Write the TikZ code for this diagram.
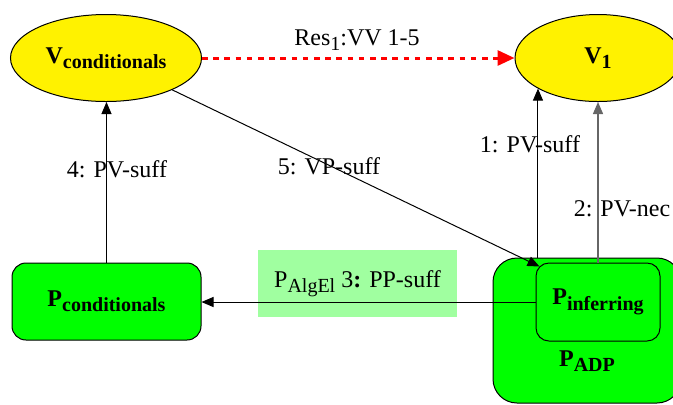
\documentclass[tikz,border=0pt]{standalone}
\usepackage{fontspec}
\setmainfont{Liberation Serif}
\usetikzlibrary{arrows.meta,shapes.geometric}
\definecolor{palegreen}{HTML}{A0FFA0}
\definecolor{necgray}{HTML}{666666}
\newcommand{\lowsub}[2][2.5pt]{\raisebox{-#1}{\fontsize{10}{12}\selectfont #2}}

\begin{document}
\begin{tikzpicture}[x=0.5pt,y=-0.5pt,font=\fontsize{12}{14}\selectfont,
  vnode/.style={ellipse,draw,fill=yellow,line width=0.5pt,inner sep=0pt,minimum height=43.5pt,font=\fontsize{12}{14}\selectfont\bfseries},
  pnode/.style={rectangle,draw,fill=green,line width=0.5pt,inner sep=0pt,rounded corners=7pt,font=\fontsize{12}{14}\selectfont\bfseries},
  link/.style={line width=0.5pt,-{Triangle[length=6pt,width=5pt]}}]
\useasboundingbox (0,0) rectangle (673,404);
\node[vnode,minimum width=95.5pt] (vcond) at (106,58) {V\lowsub{conditionals}};
\node[vnode,minimum width=83pt] (vone) at (598,58) {V\lowsub{1}};
\node[pnode,minimum width=94.5pt,minimum height=38.5pt] (pcond) at (106.5,301.5) {P\lowsub{conditionals}};
\node[pnode,rounded corners=12pt,minimum width=94pt,minimum height=72.5pt] (padp) at (587,330.5) {};
\node[pnode,rounded corners=6.5pt,minimum width=62pt,minimum height=39pt] (pinf) at (598,302) {P\lowsub[3pt]{inferring}};
\node[font=\fontsize{12}{14}\selectfont\bfseries] (padplabel) at (587,361) {P\lowsub{ADP}};
\node[fill=palegreen,minimum width=99.5pt,minimum height=33.5pt] (pplabel) at (357.5,283.5) {P\lowsub{AlgEl} 3\textbf{:} PP-suff};
% edges
\draw[red,line width=1.5pt,dash pattern=on 2.8pt off 2.8pt,-{Triangle[length=8.5pt,width=7.5pt]}] (vcond) -- (vone);
\draw[link] (pcond.north) -- (pcond.north |- vcond.south);
\draw[link] (vcond) -- ([xshift=2pt,yshift=-2pt]pinf.north west);
\draw[link] (vone.207 |- padp.north) -- (vone.207);
\draw[link,necgray,line width=0.7pt] (pinf.north) -- (vone.south);
\draw[link] (pinf.west) -- (pinf.west -| pcond.east);
% labels
\node (reslabel) at (357,40) {Res\lowsub{1}:VV 1-5};
\node (lbl4) at (117,169) {4: PV-suff};
\node (lbl5) at (329,166) {5: VP-suff};
\node (lbl1) at (530,144) {1: PV-suff};
\node (lbl2) at (622,209) {2: PV-nec};
\end{tikzpicture}
\end{document}
